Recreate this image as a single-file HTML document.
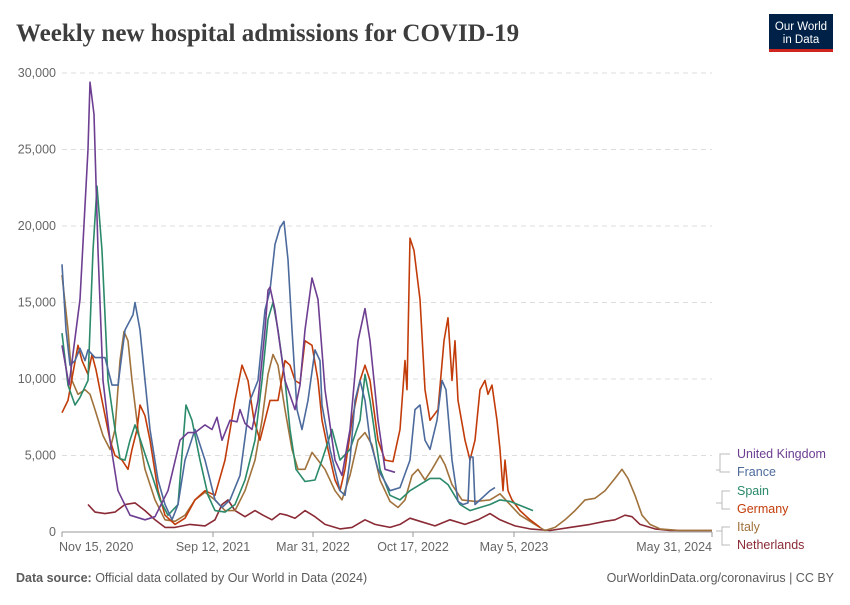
<!DOCTYPE html>
<html><head><meta charset="utf-8">
<style>
body{margin:0;background:#fff;width:850px;height:600px;overflow:hidden;font-family:"Liberation Sans",sans-serif;}
svg text{font-family:"Liberation Sans",sans-serif;}
</style></head>
<body>
<svg id="chart" width="850" height="600" xmlns="http://www.w3.org/2000/svg">
<text x="16" y="41" font-family="Liberation Serif,serif" font-size="25" font-weight="bold" fill="#3d3d3d" style="font-family:'Liberation Serif',serif">Weekly new hospital admissions for COVID-19</text>
<g>
<rect x="769" y="14" width="64" height="38" fill="#002147"/>
<rect x="769" y="49" width="64" height="3" fill="#ce261e"/>
<text x="801" y="30" font-size="11.5" fill="#fff" text-anchor="middle">Our World</text>
<text x="801" y="43" font-size="11.5" fill="#fff" text-anchor="middle">in Data</text>
</g>
<g id="grid"></g>
<g id="series"></g>
<g id="legend"></g>
<text x="16" y="582" font-size="12.5" fill="#5b5b5b"><tspan font-weight="bold">Data source:</tspan> Official data collated by Our World in Data (2024)</text>
<text x="834" y="582" font-size="12.5" fill="#5b5b5b" text-anchor="end">OurWorldinData.org/coronavirus | CC BY</text>
</svg>
<script>
const yTicks=[0,5000,10000,15000,20000,25000,30000];
const yTickLabels=["0","5,000","10,000","15,000","20,000","25,000","30,000"];
const xTickDays=[0,302,502,702,904,1300];
const xTickLabels=["Nov 15, 2020","Sep 12, 2021","Mar 31, 2022","Oct 17, 2022","May 5, 2023","May 31, 2024"];
const seriesNames=["United Kingdom","France","Spain","Germany","Italy","Netherlands"];
const seriesColors=["#6d3e91","#4c6a9c","#2a8a6a","#c23c0a","#a0723c","#8a2a35"];
const ukDays=[0,14,36,52,56,64,72,82,96,112,136,166,186,212,236,252,266,286,300,310,320,336,350,356,366,380,392,406,412,416,426,446,466,476,486,500,512,526,546,560,576,592,606,616,632,646,666];
const ukVals=[12200,9600,15200,25000,29400,27300,18400,9900,6000,2700,1100,800,1000,2700,6000,6500,6500,7000,6700,7500,6000,7300,7200,8000,7100,6700,8600,13200,15800,16000,14500,9900,8000,9600,13200,16600,15200,9300,4700,3700,6700,12500,14600,12500,7300,4100,3900];
const frDays=[0,8,16,26,36,46,52,66,86,100,112,126,142,146,156,166,176,192,206,220,232,246,266,286,306,320,336,356,376,392,406,416,426,436,444,452,460,470,480,492,506,516,520,536,556,566,576,586,596,606,616,632,656,676,696,706,716,726,736,750,760,768,780,792,802,812,816,822,826,836,856,866];
const frVals=[17500,13200,10900,11200,12000,11200,11900,11400,11400,9600,9600,13200,14200,15000,13200,9900,6700,3400,1800,800,1800,4700,6700,4700,2100,1600,2100,3700,8600,9900,14500,15800,18800,19900,20300,17800,13200,8000,6700,8600,11900,11200,8300,5400,2700,2400,4700,8600,9900,8600,6000,4100,2700,2900,4700,8000,8300,6000,5400,7300,9900,9300,4700,2000,1800,1900,4900,4900,1800,2100,2700,2900];
const esDays=[0,12,26,36,52,62,70,80,92,106,116,126,136,146,156,176,196,212,232,248,260,276,292,306,326,346,366,386,400,412,422,432,446,456,468,486,506,520,540,556,576,596,606,616,636,656,676,696,716,736,756,772,796,816,836,856,876,896,942];
const esVals=[13000,9600,8300,8800,9900,18400,22600,18400,9900,6700,4800,4700,6000,7000,6100,4100,2100,1100,1800,8300,7300,4700,2400,1400,1300,1800,3400,6000,9900,13900,15000,13200,9900,6700,4100,3300,3400,4700,6700,4700,5400,7300,10300,8600,4100,2400,2100,2700,3100,3500,3500,3100,1800,1400,1600,1800,2100,2000,1400];
const deDays=[0,12,32,40,52,60,68,80,96,106,120,132,140,150,156,166,176,192,206,226,246,266,286,306,326,346,360,372,384,396,406,416,432,446,456,466,476,486,500,512,520,532,546,556,566,580,596,606,616,632,646,662,676,686,690,696,704,716,726,736,752,764,772,780,786,792,806,816,826,836,846,852,860,870,876,882,886,892,900,916,936,956];
const deVals=[7800,8600,12200,11200,10300,11600,10600,8600,6000,5000,4700,4100,5400,6700,8300,7600,6000,2700,1100,500,900,2100,2700,2400,4700,8600,10900,9900,7300,6000,7300,8600,8600,11200,10900,9900,9700,12500,12200,9900,7300,5400,3400,2700,4100,7300,9900,10900,9900,6000,4700,4600,6700,11200,9300,19200,18400,15200,9300,7300,8000,12500,14000,9900,12500,8600,6000,4700,6000,9300,9900,9000,9600,7300,5400,2700,4700,2700,2100,1400,800,300];
const itDays=[0,12,20,32,46,56,66,82,96,106,116,124,132,140,152,166,186,206,226,246,266,286,306,326,346,366,386,400,412,422,432,446,460,472,486,500,512,526,546,560,576,592,606,620,636,656,672,686,700,712,726,740,756,766,780,800,826,856,876,896,916,946,966,986,1006,1026,1046,1066,1086,1106,1120,1132,1146,1160,1176,1196,1236,1300];
const itVals=[16800,13200,9900,9000,9300,9000,8000,6300,5400,6700,11200,13100,12500,9900,6700,4100,2100,800,700,1100,2100,2600,2100,1400,1400,2700,4700,7300,10300,11600,10900,8000,5400,4100,4100,5200,4700,4100,2700,2100,3700,6000,6500,5700,3400,2000,1600,2100,3700,4100,3400,4100,5000,4400,3100,2100,2000,2100,2500,1800,1100,500,100,300,800,1400,2100,2200,2700,3500,4100,3500,2400,1100,500,200,100,100];
const nlDays=[52,66,86,106,126,146,166,186,206,226,256,286,306,320,332,346,366,386,402,420,436,450,466,486,506,526,556,580,606,626,656,676,696,716,746,776,806,832,856,876,906,936,976,1016,1056,1086,1106,1126,1140,1156,1186,1216,1300];
const nlVals=[1800,1300,1200,1300,1800,1900,1400,800,300,300,500,400,800,1800,2100,1400,1000,1400,1100,800,1200,1100,900,1400,1000,500,200,300,800,500,300,500,900,700,400,800,500,800,1200,800,400,200,100,300,500,700,800,1100,1000,500,200,100,100];
const allDays=[ukDays,frDays,esDays,deDays,itDays,nlDays];
const allVals=[ukVals,frVals,esVals,deVals,itVals,nlVals];

const NS="http://www.w3.org/2000/svg";
const X0=62,X1=712,Y0=532,Y1=73;
function xScale(d){return X0+d/1300*(X1-X0);}
function yScale(v){return Y0-v/30000*(Y0-Y1);}
function mk(tag,attrs,parent){const e=document.createElementNS(NS,tag);for(const k in attrs)e.setAttribute(k,attrs[k]);parent.appendChild(e);return e;}
const grid=document.getElementById('grid');
yTicks.forEach((t,i)=>{
  if(t>0){const l=mk('line',{x1:X0,x2:X1,y1:yScale(t),y2:yScale(t),stroke:'#dddddd','stroke-dasharray':'5,4'},grid);
  
  }
  const tx=mk('text',{x:56,y:yScale(t)+4,'font-size':'12.5',fill:'#666','text-anchor':'end'},grid);
  tx.textContent=yTickLabels[i];
  
  
});
const ax=mk('line',{x1:X0,x2:X1,y1:Y0,y2:Y0,stroke:'#999'},grid);


xTickDays.forEach((d,i)=>{
  const x=xScale(d);
  const tk=mk('line',{x1:x,x2:x,y1:Y0,y2:Y0+5,stroke:'#999'},grid);
  
  
  const anchor=i==0?'start':(i==xTickDays.length-1?'end':'middle');
  const tx=mk('text',{x:i==0?x-3:(i==xTickDays.length-1?x:x),y:551,'font-size':'12.5',fill:'#666','text-anchor':anchor},grid);
  tx.textContent=xTickLabels[i];
  
  
});
const sg=document.getElementById('series');
[5,4,3,2,1,0].forEach(s=>{
  const d=allDays[s].map((dd,i)=>(i?'L':'M')+xScale(dd).toFixed(1)+','+yScale(allVals[s][i]).toFixed(1)).join('');
  const p=mk('path',{d:d,fill:'none',stroke:seriesColors[s],'stroke-width':'1.6','stroke-linejoin':'round'},sg);
  
  
});
const lg=document.getElementById('legend');
const labY=[454,472,491,509,527,545];
mk('path',{d:'M716,470 H720 V454 H730 M720,462 V472 H730 M716,503 H722 V491 H730 M722,498 V509 H730 M716,531 H722 V527 H730 M722,531 V545 H730',fill:'none',stroke:'#bbb'},lg);
seriesNames.forEach((n,i)=>{
  const t=mk('text',{x:737,y:labY[i]+4,'font-size':'12.5',fill:seriesColors[i]},lg);
  t.textContent=n;
  
  
});
</script>
</body></html>
